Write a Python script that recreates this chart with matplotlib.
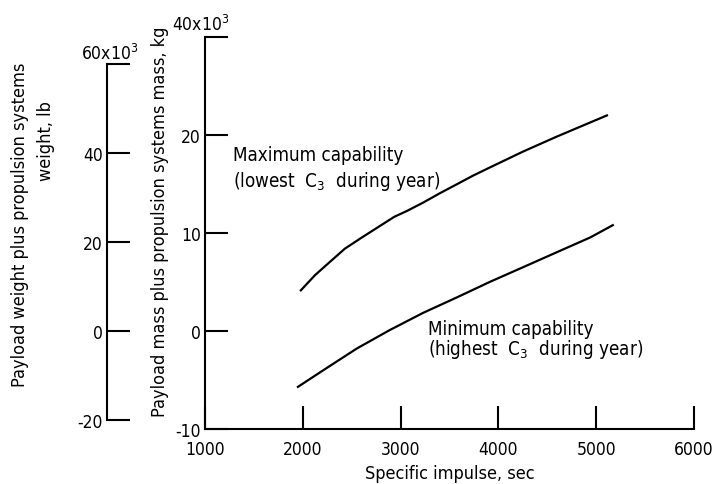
import matplotlib
matplotlib.use('Agg')
import matplotlib.pyplot as plt

# values
isp_max = [1980, 2125, 2260, 2430, 2605, 2770, 2935, 3065, 3230, 3400, 3580,
           3740, 3905, 4250, 4600, 5110]
mass_max = [4.15, 5.7, 6.9, 8.4, 9.55, 10.6, 11.65, 12.25, 13.1, 14.05, 15.0,
            15.85, 16.65, 18.3, 19.85, 22.0]

isp_min = [1950, 2210, 2550, 2890, 3230, 3580, 3910, 4250, 4600, 4940, 5170]
mass_min = [-5.7, -4.0, -1.8, 0.1, 1.85, 3.45, 5.0, 6.5, 8.05, 9.55, 10.8]

x_ticks = [1000, 2000, 3000, 4000, 5000, 6000]
kg_ticks = [-10, 0, 10, 20, 30]
kg_labels = ['-10', '0', '10', '20', '']
lb_ticks = [-20, 0, 20, 40, 60]
lb_labels = ['-20', '0', '20', '40', '']

KG_TO_LB = 2.20462

plt.rcParams['font.family'] = ['DejaVu Sans']
plt.rcParams['font.stretch'] = 'condensed'
plt.rcParams['mathtext.fontset'] = 'custom'
plt.rcParams['mathtext.rm'] = 'DejaVu Sans:stretch=condensed'
plt.rcParams['mathtext.default'] = 'rm'

W, H = 716, 485
fig = plt.figure(figsize=(W / 100, H / 100), dpi=100)

def fx(px):
    return px / W

def fy(py):
    return 1 - py / H

left, right, top, bottom = 205, 694, 38, 430
ax = fig.add_axes([fx(left), fy(bottom), fx(right - left), (bottom - top) / H])
ax.set_xlim(1000, 6000)
ax.set_ylim(-10, 30)

ax.plot(isp_max, mass_max, color='black', linewidth=1.6)
ax.plot(isp_min, mass_min, color='black', linewidth=1.6)

for s in ['top', 'right']:
    ax.spines[s].set_visible(False)
for s in ['left', 'bottom']:
    ax.spines[s].set_linewidth(1.5)

ax.set_xticks(x_ticks)
ax.set_yticks(kg_ticks)
ax.set_yticklabels(kg_labels)
ax.tick_params(axis='both', direction='in', length=16.5, width=1.5, labelsize=12.5)
ax.tick_params(axis='x', pad=8)
ax.tick_params(axis='y', pad=3)

ax.set_xlabel('Specific impulse, sec', fontsize=13, labelpad=4)
fig.text(fx(160), fy(222), 'Payload mass plus propulsion systems mass, kg',
         rotation=90, ha='center', va='center', fontsize=13)
fig.text(fx(201), fy(25), '40x10$^3$', ha='center', va='center', fontsize=12.5)

ax.text(1290, 18.0, 'Maximum capability', fontsize=13.5, va='center')
ax.text(1290, 15.4, '(lowest  C$_3$  during year)', fontsize=13.5, va='center')
ax.text(3280, 0.3, 'Minimum capability', fontsize=13.5, va='center')
ax.text(3280, -1.8, '(highest  C$_3$  during year)', fontsize=13.5, va='center')

# second scale in pounds
ax2 = fig.add_axes([fx(107), fy(bottom), 0.05, (bottom - top) / H])
ax2.patch.set_visible(False)
ax2.set_ylim(-10 * KG_TO_LB, 30 * KG_TO_LB)
ax2.set_xlim(0, 1)
for s in ['top', 'right', 'bottom']:
    ax2.spines[s].set_visible(False)
ax2.spines['left'].set_linewidth(1.5)
ax2.spines['left'].set_bounds(-20, 60)
ax2.set_xticks([])
ax2.set_yticks(lb_ticks)
ax2.set_yticklabels(lb_labels)
ax2.tick_params(axis='y', direction='in', length=16.5, width=1.5, labelsize=12.5, pad=3)
fig.text(fx(110), fy(54), '60x10$^3$', ha='center', va='center', fontsize=12.5)

fig.text(fx(20), fy(225), 'Payload weight plus propulsion systems',
         rotation=90, ha='center', va='center', fontsize=13)
fig.text(fx(46), fy(141), 'weight, lb',
         rotation=90, ha='center', va='center', fontsize=13)

fig.savefig('out.png', dpi=100)
